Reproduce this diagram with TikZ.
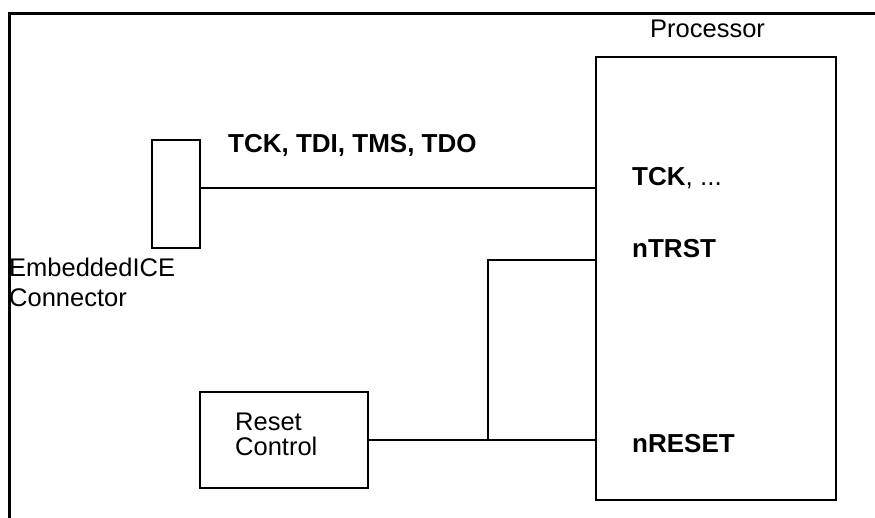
\documentclass[tikz,border=0pt]{standalone}
\usepackage{fontspec}
\setmainfont{Liberation Sans}
\usepackage{tikz}
\usetikzlibrary{positioning,calc}
\tikzset{
  bx/.style   = {draw=black, line width=2pt, inner sep=0pt},
  ln/.style   = {draw=black, line width=1.6pt},
  fr/.style   = {draw=black, line width=3pt},
  lbl/.style  = {inner sep=0pt, anchor=base west, font=\fontsize{25.5}{30}\selectfont},
  sig/.style  = {lbl, font=\fontsize{26}{30}\selectfont\bfseries},
}

\begin{document}
\begin{tikzpicture}[x=1pt, y=-1pt]
  \useasboundingbox (0,0) rectangle (875,518);
  % outer frame (left and top only)
  \draw[fr] (9.5,518) -- (9.5,13.5) -- (875,13.5);
  % boxes
  \node[bx, minimum width=240pt, minimum height=443pt] (proc) at (716,278.5) {};
  \node[bx, minimum width=48pt, minimum height=108pt] (conn) at (176,194) {};
  \node[bx, minimum width=168pt, minimum height=96pt] (rst) at (284,440) {};
  % labels (multi-line ones sit on their last baseline)
  \node[lbl] (proclbl) at (650,38) {Processor};
  \node[sig] (buslbl) at (228,153) {TCK, TDI, TMS, TDO};
  \node[lbl, font=\fontsize{26}{30}\selectfont] (tcklbl) at (632,186) {\textbf{TCK}, ...};
  \node[sig] (trstlbl) at (632,258) {nTRST};
  \node[sig] (nrstlbl) at (632,452) {nRESET};
  \node[lbl, align=left] (connlbl) at (9,307) {EmbeddedICE\\Connector};
  \node[lbl, align=left, font=\fontsize{25.5}{25}\selectfont] (rstlbl) at (235,455) {Reset\\Control};
  % wires
  \coordinate (tckY) at (0,188);
  \coordinate (trstY) at (0,260);
  \coordinate (jn) at (488,440);
  \draw[ln] (conn.east |- tckY) -- (proc.west |- tckY);
  \draw[ln] (rst.east) -- (proc.west |- rst.east);
  \draw[ln] (jn) |- (proc.west |- trstY);
\end{tikzpicture}
\end{document}
